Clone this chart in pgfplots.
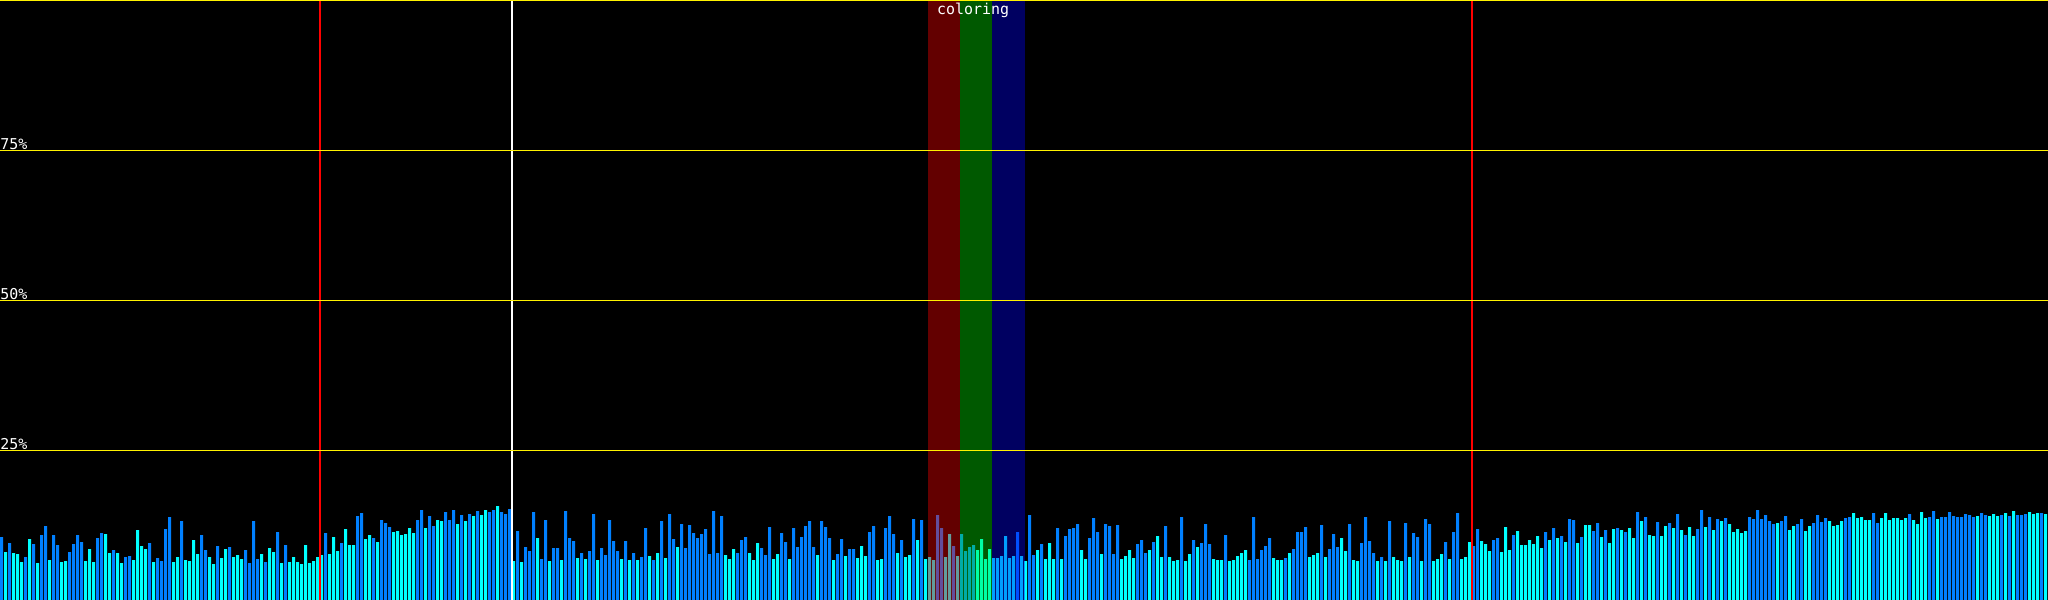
\documentclass[border=0pt]{standalone}
\usepackage{pgfplots}
\usepackage{pgfplotstable}
\pgfplotsset{compat=1.18}
\usepackage{fontspec}
\setmonofont{DejaVu Sans Mono}
\definecolor{barblue}{RGB}{0,128,255}
\definecolor{barcyan}{RGB}{0,255,255}
\pgfplotstableread[row sep=\\]{
i h c\\
0 63 0\\ 1 48 1\\ 2 57 0\\ 3 47 1\\ 4 46 1\\ 5 38 1\\ 6 43 0\\ 7 61 1\\ 8 56 0\\ 9 37 1\\ 10 65 0\\ 11 74 0\\ 12 40 1\\ 13 65 0\\ 14 55 0\\ 15 38 1\\
16 39 1\\ 17 48 0\\ 18 56 0\\ 19 65 0\\ 20 58 0\\ 21 39 1\\ 22 51 1\\ 23 38 1\\ 24 62 0\\ 25 67 0\\ 26 66 1\\ 27 47 1\\ 28 50 0\\ 29 47 1\\ 30 37 1\\ 31 43 0\\
32 44 0\\ 33 40 1\\ 34 70 1\\ 35 54 1\\ 36 51 1\\ 37 57 0\\ 38 38 1\\ 39 42 0\\ 40 39 0\\ 41 71 0\\ 42 83 0\\ 43 38 1\\ 44 43 1\\ 45 79 0\\ 46 40 1\\ 47 39 1\\
48 60 1\\ 49 46 1\\ 50 65 0\\ 51 50 0\\ 52 43 1\\ 53 36 1\\ 54 54 0\\ 55 42 1\\ 56 51 1\\ 57 53 0\\ 58 43 1\\ 59 45 1\\ 60 41 1\\ 61 50 0\\ 62 37 0\\ 63 79 0\\
64 41 0\\ 65 46 1\\ 66 38 0\\ 67 52 1\\ 68 48 1\\ 69 68 0\\ 70 37 1\\ 71 55 0\\ 72 38 1\\ 73 43 1\\ 74 38 1\\ 75 36 1\\ 76 55 1\\ 77 37 1\\ 78 39 1\\ 79 43 1\\
80 45 1\\ 81 67 0\\ 82 46 1\\ 83 63 1\\ 84 49 1\\ 85 57 0\\ 86 71 1\\ 87 55 1\\ 88 55 1\\ 89 84 0\\ 90 87 0\\ 91 61 1\\ 92 65 1\\ 93 62 0\\ 94 58 1\\ 95 80 0\\
96 77 0\\ 97 73 0\\ 98 68 1\\ 99 69 1\\ 100 65 1\\ 101 66 1\\ 102 72 1\\ 103 67 1\\ 104 80 0\\ 105 90 0\\ 106 72 1\\ 107 84 0\\ 108 74 0\\ 109 80 1\\ 110 79 1\\ 111 88 0\\
112 80 0\\ 113 90 0\\ 114 76 1\\ 115 85 0\\ 116 79 1\\ 117 86 0\\ 118 84 1\\ 119 89 0\\ 120 85 1\\ 121 90 1\\ 122 88 0\\ 123 90 0\\ 124 94 1\\ 125 88 0\\ 126 86 0\\ 127 91 0\\
128 39 1\\ 129 69 0\\ 130 38 1\\ 131 53 0\\ 132 49 0\\ 133 88 0\\ 134 62 1\\ 135 41 0\\ 136 80 0\\ 137 39 1\\ 138 52 0\\ 139 52 0\\ 140 40 1\\ 141 89 0\\ 142 62 0\\ 143 59 0\\
144 42 1\\ 145 47 0\\ 146 41 1\\ 147 49 0\\ 148 86 0\\ 149 40 1\\ 150 52 0\\ 151 45 0\\ 152 80 0\\ 153 59 0\\ 154 49 0\\ 155 41 1\\ 156 59 0\\ 157 40 1\\ 158 47 0\\ 159 40 1\\
160 43 0\\ 161 72 0\\ 162 44 1\\ 163 40 0\\ 164 47 1\\ 165 79 0\\ 166 42 1\\ 167 86 0\\ 168 61 0\\ 169 53 1\\ 170 76 0\\ 171 52 0\\ 172 75 0\\ 173 67 0\\ 174 62 0\\ 175 66 0\\
176 71 0\\ 177 46 0\\ 178 89 0\\ 179 47 0\\ 180 84 0\\ 181 45 1\\ 182 41 1\\ 183 51 1\\ 184 47 0\\ 185 60 0\\ 186 63 0\\ 187 47 1\\ 188 40 1\\ 189 57 1\\ 190 52 0\\ 191 45 0\\
192 73 0\\ 193 41 1\\ 194 46 1\\ 195 67 0\\ 196 58 0\\ 197 41 1\\ 198 72 0\\ 199 53 0\\ 200 63 0\\ 201 74 0\\ 202 79 0\\ 203 53 0\\ 204 45 1\\ 205 79 0\\ 206 73 0\\ 207 62 0\\
208 40 1\\ 209 46 0\\ 210 61 0\\ 211 44 1\\ 212 51 0\\ 213 51 0\\ 214 42 1\\ 215 54 1\\ 216 44 1\\ 217 68 0\\ 218 74 0\\ 219 40 1\\ 220 41 1\\ 221 72 0\\ 222 84 0\\ 223 66 0\\
224 47 1\\ 225 60 0\\ 226 43 1\\ 227 45 1\\ 228 81 0\\ 229 60 1\\ 230 80 0\\ 231 41 1\\ 232 43 1\\ 233 40 1\\ 234 85 0\\ 235 72 0\\ 236 43 1\\ 237 66 1\\ 238 54 0\\ 239 44 1\\
240 66 0\\ 241 49 0\\ 242 53 0\\ 243 55 0\\ 244 50 1\\ 245 61 1\\ 246 41 1\\ 247 51 1\\ 248 42 1\\ 249 42 1\\ 250 44 1\\ 251 64 1\\ 252 42 1\\ 253 44 1\\ 254 68 0\\ 255 44 1\\
256 39 1\\ 257 85 0\\ 258 45 0\\ 259 50 1\\ 260 56 0\\ 261 41 1\\ 262 57 1\\ 263 41 1\\ 264 72 0\\ 265 41 1\\ 266 64 0\\ 267 71 0\\ 268 72 0\\ 269 76 0\\ 270 50 1\\ 271 41 1\\
272 62 0\\ 273 82 0\\ 274 68 0\\ 275 46 1\\ 276 76 0\\ 277 74 0\\ 278 46 0\\ 279 75 0\\ 280 41 1\\ 281 44 1\\ 282 50 1\\ 283 42 1\\ 284 56 0\\ 285 60 0\\ 286 47 0\\ 287 50 1\\
288 58 0\\ 289 64 1\\ 290 43 1\\ 291 74 0\\ 292 43 1\\ 293 39 1\\ 294 40 1\\ 295 83 0\\ 296 39 1\\ 297 46 1\\ 298 60 0\\ 299 53 1\\ 300 57 0\\ 301 76 0\\ 302 56 0\\ 303 41 1\\
304 40 1\\ 305 40 1\\ 306 65 0\\ 307 39 1\\ 308 40 1\\ 309 44 1\\ 310 47 1\\ 311 50 1\\ 312 40 0\\ 313 83 0\\ 314 41 0\\ 315 50 0\\ 316 54 0\\ 317 62 0\\ 318 42 1\\ 319 40 1\\
320 40 1\\ 321 42 0\\ 322 47 1\\ 323 51 0\\ 324 68 0\\ 325 68 0\\ 326 73 0\\ 327 43 1\\ 328 45 1\\ 329 47 1\\ 330 75 0\\ 331 43 1\\ 332 51 0\\ 333 66 0\\ 334 53 0\\ 335 62 1\\
336 49 1\\ 337 76 0\\ 338 40 1\\ 339 39 1\\ 340 57 0\\ 341 83 0\\ 342 59 0\\ 343 47 0\\ 344 39 1\\ 345 43 0\\ 346 39 1\\ 347 79 0\\ 348 43 1\\ 349 40 1\\ 350 39 1\\ 351 77 0\\
352 43 1\\ 353 67 0\\ 354 63 0\\ 355 39 1\\ 356 81 0\\ 357 76 0\\ 358 39 1\\ 359 41 1\\ 360 46 1\\ 361 58 0\\ 362 41 1\\ 363 68 0\\ 364 87 0\\ 365 41 1\\ 366 43 1\\ 367 58 1\\
368 54 0\\ 369 71 0\\ 370 59 1\\ 371 56 1\\ 372 49 1\\ 373 60 0\\ 374 62 0\\ 375 48 1\\ 376 73 1\\ 377 50 1\\ 378 65 0\\ 379 69 1\\ 380 55 1\\ 381 55 1\\ 382 60 1\\ 383 56 1\\
384 64 1\\ 385 52 1\\ 386 68 0\\ 387 60 1\\ 388 72 0\\ 389 62 1\\ 390 64 0\\ 391 58 1\\ 392 81 0\\ 393 80 0\\ 394 57 1\\ 395 63 0\\ 396 75 1\\ 397 75 1\\ 398 69 0\\ 399 77 0\\
400 63 1\\ 401 70 0\\ 402 57 1\\ 403 71 1\\ 404 72 0\\ 405 70 1\\ 406 68 0\\ 407 72 1\\ 408 62 1\\ 409 88 0\\ 410 79 1\\ 411 83 0\\ 412 65 1\\ 413 64 1\\ 414 78 0\\ 415 64 1\\
416 74 1\\ 417 77 0\\ 418 72 1\\ 419 86 0\\ 420 70 1\\ 421 65 0\\ 422 73 1\\ 423 64 1\\ 424 71 0\\ 425 90 0\\ 426 73 1\\ 427 83 0\\ 428 70 1\\ 429 81 0\\ 430 79 1\\ 431 82 0\\
432 76 1\\ 433 68 1\\ 434 71 1\\ 435 67 1\\ 436 69 1\\ 437 83 0\\ 438 81 0\\ 439 90 0\\ 440 81 0\\ 441 85 0\\ 442 79 0\\ 443 76 0\\ 444 77 1\\ 445 79 0\\ 446 84 0\\ 447 70 1\\
448 74 1\\ 449 76 0\\ 450 81 0\\ 451 69 1\\ 452 74 1\\ 453 77 0\\ 454 85 0\\ 455 78 0\\ 456 82 0\\ 457 79 1\\ 458 74 1\\ 459 75 1\\ 460 79 1\\ 461 82 0\\ 462 83 0\\ 463 87 1\\
464 82 1\\ 465 83 1\\ 466 80 1\\ 467 80 1\\ 468 87 0\\ 469 77 0\\ 470 82 1\\ 471 87 1\\ 472 80 1\\ 473 82 1\\ 474 82 1\\ 475 80 1\\ 476 82 1\\ 477 86 0\\ 478 80 1\\ 479 76 1\\
480 88 1\\ 481 82 1\\ 482 83 0\\ 483 89 0\\ 484 81 1\\ 485 83 0\\ 486 83 0\\ 487 88 0\\ 488 84 0\\ 489 83 0\\ 490 83 0\\ 491 86 0\\ 492 85 0\\ 493 83 0\\ 494 84 1\\ 495 87 0\\
496 85 0\\ 497 84 1\\ 498 86 1\\ 499 84 1\\ 500 85 0\\ 501 87 1\\ 502 84 0\\ 503 89 1\\ 504 85 0\\ 505 85 0\\ 506 86 0\\ 507 88 1\\ 508 86 1\\ 509 87 1\\ 510 87 0\\ 511 86 1\\
}\bars
\begin{document}
\begin{tikzpicture}
\begin{axis}[
  anchor=south west, at={(0bp,0bp)},
  width=1024bp, height=300bp, scale only axis,
  xmin=0, xmax=2048, ymin=0, ymax=600,
  axis background/.style={fill=black},
  axis line style={draw=none},
  tick style={draw=none},
  xtick=\empty,
  ytick={150,300,450,599.5}, yticklabels={},
  ymajorgrids,
  y grid style={yellow, line width=0.5bp},
  axis on top,
]
\addplot[ybar, bar width=3, bar shift=0pt, draw=none, fill=barblue]
  table[x expr=4*\thisrow{i}+1.5, y expr=\thisrow{h}*(1-\thisrow{c})] {\bars};
\addplot[ybar, bar width=3, bar shift=0pt, draw=none, fill=barcyan]
  table[x expr=4*\thisrow{i}+1.5, y expr=\thisrow{h}*\thisrow{c}] {\bars};
\fill[red, fill opacity=0.39] (axis cs:928,0) rectangle (axis cs:960,600);
\fill[green, fill opacity=0.35] (axis cs:960,0) rectangle (axis cs:992,600);
\fill[blue, fill opacity=0.38] (axis cs:992,0) rectangle (axis cs:1025,600);
\draw[red, line width=1bp] (axis cs:320,0) -- (axis cs:320,600);
\draw[red, line width=1bp] (axis cs:1472,0) -- (axis cs:1472,600);
\draw[white, line width=1bp] (axis cs:512,0) -- (axis cs:512,600);
\node[anchor=base west, inner sep=0pt, text=white, font=\ttfamily\fontsize{7.5}{9}\selectfont] at (axis cs:0,451) {75\%};
\node[anchor=base west, inner sep=0pt, text=white, font=\ttfamily\fontsize{7.5}{9}\selectfont] at (axis cs:0,301) {50\%};
\node[anchor=base west, inner sep=0pt, text=white, font=\ttfamily\fontsize{7.5}{9}\selectfont] at (axis cs:0,151) {25\%};
\node[anchor=base, inner sep=0pt, text=white, font=\ttfamily\fontsize{7.5}{9}\selectfont] at (axis cs:973,585.5) {coloring};
\end{axis}
\pgfresetboundingbox
\path[use as bounding box] (0bp,0bp) rectangle (1024bp,300bp);
\end{tikzpicture}
\end{document}
